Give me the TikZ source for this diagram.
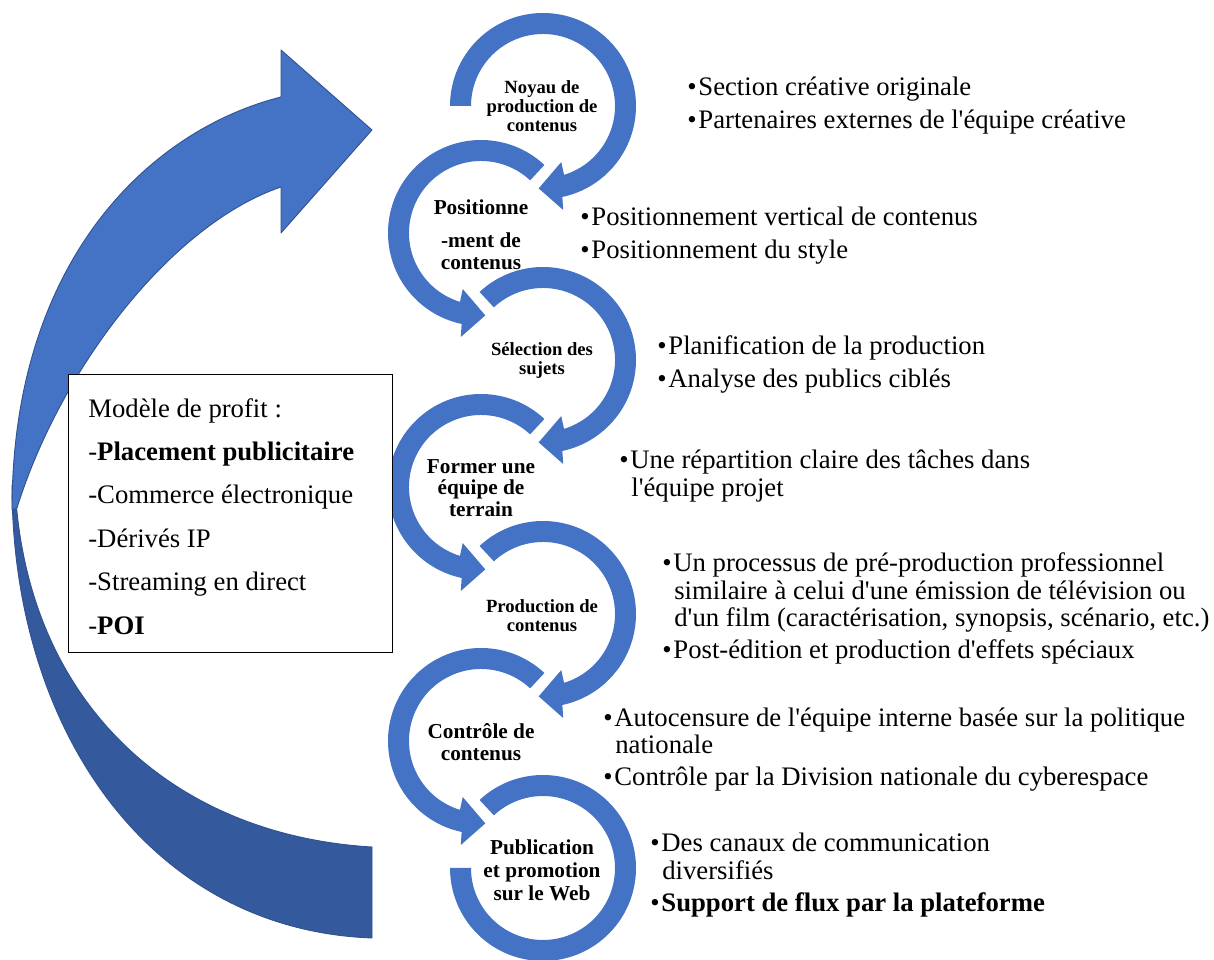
\documentclass[tikz,border=0pt]{standalone}
\usepackage{fontspec}
\setmainfont{Liberation Serif}[Ligatures=TeXOff]
\definecolor{ringblue}{HTML}{4472C4}
\definecolor{darkblue}{HTML}{34599C}
\definecolor{edgeblue}{HTML}{2F528F}
\newcommand\bul{\makebox[6.3pt][l]{•}}
\begin{document}
\begin{tikzpicture}[x=0.02cm,y=0.02cm,
  rt/.style={anchor=base west, inner sep=0pt, font=\fontsize{15.2pt}{18pt}\selectfont},
  lblA/.style={align=center, inner sep=0pt, font=\fontsize{10.6pt}{10.8pt}\selectfont\bfseries},
  lblB/.style={align=center, inner sep=0pt, font=\fontsize{12.1pt}{12.4pt}\selectfont\bfseries},
  ring/.style={fill=ringblue},
  bigarrow/.style={draw=edgeblue, line width=0.5pt, line join=round}]
\useasboundingbox (0,0) rectangle (1214,960);

% ---- big curved arrow: dark lower part
\fill[bigarrow, fill=darkblue]
  (12,475) .. controls (12,230) and (150,30) .. (372,22)
  -- (372,113)
  .. controls (170,125) and (25,260) .. (15,475)
  -- cycle;
% ---- big curved arrow: light upper part with head
\fill[bigarrow, fill=ringblue]
  (12,450) .. controls (12,700) and (150,830) .. (281,863)
  -- (281,910) -- (372,830) -- (281,727) -- (281,773)
  .. controls (170,735) and (60,590) .. (17,452)
  -- cycle;

% ---- circular arrows
\coordinate (c1) at (543,854);
\coordinate (c2) at (481,727);
\coordinate (c3) at (543,600);
\coordinate (c4) at (481,473);
\coordinate (c5) at (543,346);
\coordinate (c6) at (481,219);
\coordinate (c7) at (543,92);

\begin{scope}[shift={(c1)}]
\fill[ring] (180:93) arc[start angle=180, end angle=-78, radius=93] -- (-79:106) -- (-93:82.5) -- (-72:59) -- (-73:72) arc[start angle=-73, end angle=180, radius=72] -- cycle;
\end{scope}
\foreach \c in {c3,c5}{
\begin{scope}[shift={(\c)}]
\fill[ring] (133:93) arc[start angle=133, end angle=-78, radius=93] -- (-79:106) -- (-93:82.5) -- (-72:59) -- (-73:72) arc[start angle=-73, end angle=133, radius=72] -- cycle;
\end{scope}}
\foreach \c in {c2,c4,c6}{
\begin{scope}[shift={(\c)}]
\fill[ring] (47:93) arc[start angle=47, end angle=258, radius=93] -- (259:106) -- (273:82.5) -- (252:59) -- (253:72) arc[start angle=253, end angle=47, radius=72] -- cycle;
\end{scope}}
\begin{scope}[shift={(c7)}]
\fill[ring] (133:93) arc[start angle=133, end angle=-180, radius=93] -- (-180:72) arc[start angle=-180, end angle=133, radius=72] -- cycle;
\end{scope}

% ---- circle labels
\node[lblA] (l1) at (542,854) {Noyau de\\production de\\contenus};
\node[lblB] (l2) at (481,725) {Positionne\\[6.5pt]-ment de\\contenus};
\node[lblA] (l3) at (542,599) {Sélection des\\sujets};
\node[lblB] (l4) at (481,472) {Former une\\équipe de\\terrain};
\node[lblA] (l5) at (542,344) {Production de\\contenus};
\node[lblB] (l6) at (481,218) {Contrôle de\\contenus};
\node[lblB] (l7) at (542,90) {Publication\\[0.6pt]et promotion\\[0.6pt]sur le Web};

% ---- profit box
\node[draw=black, fill=white, line width=0.6pt, minimum width=6.48cm, minimum height=5.56cm, anchor=south west, inner sep=0pt] (box) at (68,307) {};
\node[rt] (b1) at (88,542) {Modèle de profit :};
\node[rt] (b2) at (88,499) {-\textbf{Placement publicitaire}};
\node[rt] (b3) at (88,456) {-Commerce électronique};
\node[rt] (b4) at (88,412) {-Dérivés IP};
\node[rt] (b5) at (88,369) {-Streaming en direct};
\node[rt] (b6) at (88,325) {-\textbf{POI}};

% ---- right-hand bullet texts
\node[rt] (g1a) at (687,864) {\bul Section créative originale};
\node[rt] (g1b) at (687,831) {\bul Partenaires externes de l'équipe créative};

\node[rt] (g2a) at (580,734) {\bul Positionnement vertical de contenus};
\node[rt] (g2b) at (580,701) {\bul Positionnement du style};

\node[rt] (g3a) at (657,605) {\bul Planification de la production};
\node[rt] (g3b) at (657,572) {\bul Analyse des publics ciblés};

\node[rt] (g4a) at (619,491) {\bul Une répartition claire des tâches dans};
\node[rt] (g4b) at (631,463) {l'équipe projet};

\node[rt] (g5a) at (662,388) {\bul Un processus de pré-production professionnel};
\node[rt] (g5b) at (674,360) {similaire à celui d'une émission de télévision ou};
\node[rt] (g5c) at (674,333) {d'un film (caractérisation, synopsis, scénario, etc.)};
\node[rt] (g5d) at (662,301) {\bul Post-édition et production d'effets spéciaux};

\node[rt] (g6a) at (603,233) {\bul Autocensure de l'équipe interne basée sur la politique};
\node[rt] (g6b) at (615,206) {nationale};
\node[rt] (g6c) at (603,174) {\bul Contrôle par la Division nationale du cyberespace};

\node[rt] (g7a) at (650,108) {\bul Des canaux de communication};
\node[rt] (g7b) at (662,80) {diversifiés};
\node[rt] (g7c) at (650,48) {\bul \textbf{Support de flux par la plateforme}};
\end{tikzpicture}
\end{document}
